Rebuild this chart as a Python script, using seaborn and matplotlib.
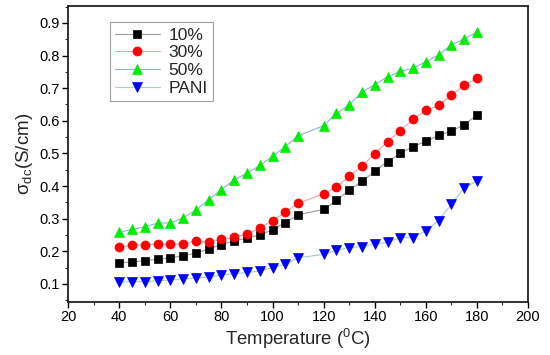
import matplotlib
matplotlib.use("Agg")
import matplotlib.pyplot as plt
from matplotlib.ticker import MultipleLocator
import seaborn as sns

# temperature (C); note there is no reading at 115
temperature = [40, 45, 50, 55, 60, 65, 70, 75, 80, 85, 90, 95, 100, 105, 110,
               120, 125, 130, 135, 140, 145, 150, 155, 160, 165, 170, 175, 180]

sigma_10 = [0.165, 0.167, 0.171, 0.175, 0.180, 0.186, 0.194, 0.207, 0.220, 0.232,
            0.240, 0.250, 0.266, 0.288, 0.312, 0.328, 0.356, 0.388, 0.414, 0.445,
            0.475, 0.500, 0.521, 0.537, 0.555, 0.568, 0.588, 0.617]
sigma_30 = [0.213, 0.218, 0.220, 0.222, 0.222, 0.222, 0.232, 0.229, 0.236, 0.243,
            0.252, 0.271, 0.294, 0.319, 0.347, 0.376, 0.397, 0.430, 0.461, 0.499,
            0.536, 0.570, 0.604, 0.632, 0.647, 0.678, 0.709, 0.730]
sigma_50 = [0.258, 0.267, 0.275, 0.286, 0.287, 0.302, 0.326, 0.358, 0.389, 0.419,
            0.439, 0.463, 0.491, 0.521, 0.554, 0.585, 0.623, 0.649, 0.688, 0.711,
            0.735, 0.752, 0.761, 0.781, 0.802, 0.833, 0.851, 0.872]
sigma_pani = [0.105, 0.107, 0.107, 0.109, 0.112, 0.115, 0.118, 0.121, 0.127, 0.131,
              0.135, 0.139, 0.150, 0.160, 0.180, 0.190, 0.203, 0.211, 0.214, 0.222,
              0.227, 0.242, 0.242, 0.263, 0.294, 0.344, 0.395, 0.415]

labels = ["10%", "30%", "50%", "PANI"]

sns.set_style("ticks")
plt.rcParams["font.family"] = ["Liberation Sans", "DejaVu Sans"]
plt.rcParams["mathtext.fontset"] = "custom"
plt.rcParams["mathtext.rm"] = "Liberation Sans"
plt.rcParams["mathtext.it"] = "Liberation Sans:italic"

fig = plt.figure(figsize=(5.5, 3.55), dpi=100)
ax = fig.add_axes([0.124, 0.150, 0.836, 0.833])

# (values, marker, marker colour, line colour, marker size)
series = [
    (sigma_10, "s", "black", "#9a9a9a", 5.8),
    (sigma_30, "o", "#ff0000", "#f0a0a0", 6.5),
    (sigma_50, "^", "#00ee00", "#8fb0e0", 7.2),
    (sigma_pani, "v", "#0000ff", "#9fd4b8", 7.2),
]

for (vals, mk, mc, lc, ms), lab in zip(series, labels):
    sns.lineplot(x=temperature, y=vals, ax=ax, label=lab, color=lc,
                 linewidth=0.8, marker=mk, markersize=ms,
                 markerfacecolor=mc, markeredgecolor=mc, markeredgewidth=0.5)

ax.set_xlim(20, 200)
ax.set_ylim(0.045, 0.952)
ax.xaxis.set_major_locator(MultipleLocator(20))
ax.xaxis.set_minor_locator(MultipleLocator(10))
ax.yaxis.set_minor_locator(MultipleLocator(0.05))
ax.set_yticks([0.1, 0.2, 0.3, 0.4, 0.5, 0.6, 0.7, 0.8, 0.9])
ax.set_yticklabels(["0.1", "0.2", "0.3", "0.4", "0.5", "0.6", "0.7", "0.8", "0.9"])

ax.tick_params(which="major", direction="out", length=4, width=1, labelsize=10.5,
               colors="black", pad=2)
ax.tick_params(which="minor", direction="out", length=2.5, width=0.8)

for s in ax.spines.values():
    s.set_visible(True)
    s.set_linewidth(1.3)
    s.set_color("#222222")

ax.set_xlabel("Temperature ($^{0}$C)", fontsize=13.3, labelpad=2)
ax.set_ylabel("σ$_{\\mathrm{dc}}$(S/cm)", fontsize=13.5, labelpad=3)

leg = ax.legend(loc="upper left", bbox_to_anchor=(0.09, 0.945), borderaxespad=0,
                fontsize=12.5, frameon=True, fancybox=False, edgecolor="#888888",
                handlelength=2.6, handletextpad=0.5, labelspacing=0.15,
                borderpad=0.3)
leg.get_frame().set_linewidth(0.8)

fig.savefig("out.png", dpi=100)
